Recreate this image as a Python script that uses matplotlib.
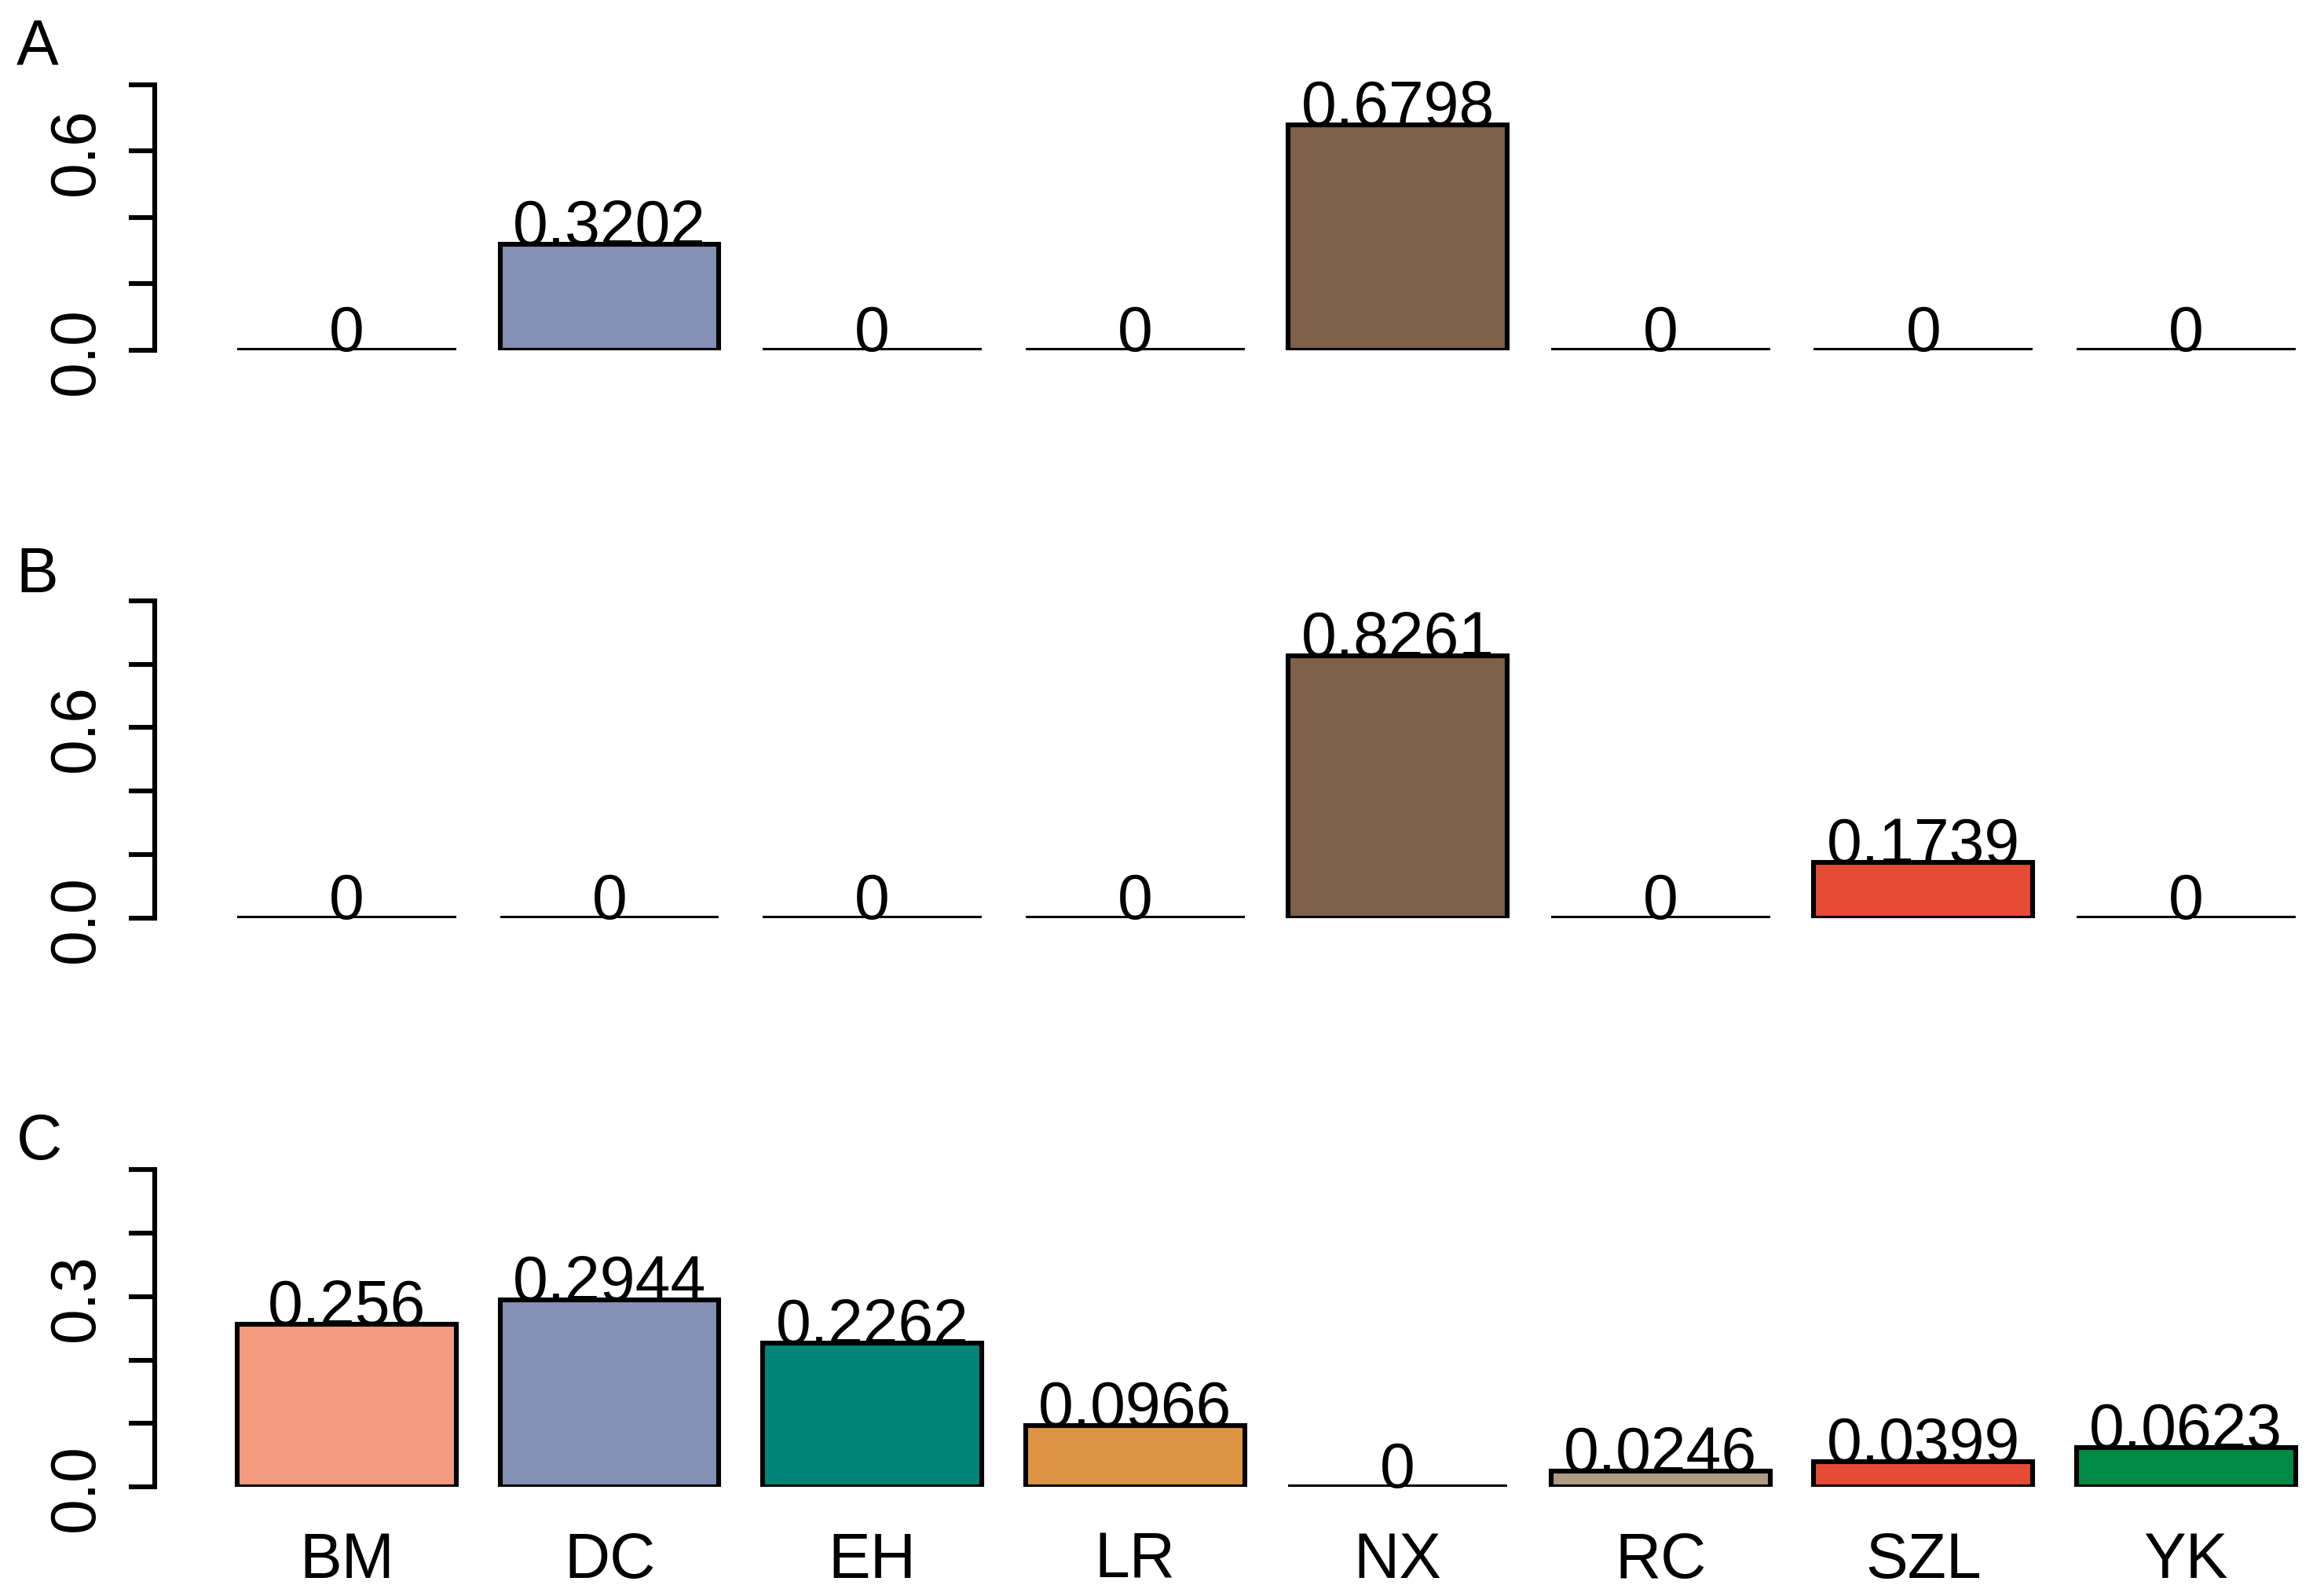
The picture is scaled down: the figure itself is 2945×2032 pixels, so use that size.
import numpy as np
from matplotlib import pyplot as plt

plt.rcParams['font.family'] = ['Liberation Sans', 'DejaVu Sans']

groups = ['BM', 'DC', 'EH', 'LR', 'NX', 'RC', 'SZL', 'YK']
colors = ['#F39B7F', '#8491B4', '#00857A', '#DE9543',
          '#7E6148', '#B09C85', '#E64B35', '#008B45']

# 三组比例
a_vals = [0, 0.3202, 0, 0, 0.6798, 0, 0, 0]
b_vals = [0, 0, 0, 0, 0.8261, 0, 0.1739, 0]
c_vals = [0.256, 0.2944, 0.2262, 0.0966, 0, 0.0246, 0.0399, 0.0623]

a_ticks = [0, 0.2, 0.4, 0.6, 0.8]
b_ticks = [0, 0.2, 0.4, 0.6, 0.8, 1.0]
c_ticks = [0, 0.1, 0.2, 0.3, 0.4, 0.5]
a_labels = ['0.0', '', '', '0.6', '']
b_labels = ['0.0', '', '', '0.6', '', '']
c_labels = ['0.0', '', '', '0.3', '', '']

fs = 29
lw = 2.2

fig = plt.figure(figsize=(14.725, 10.165), dpi=200)

# 柱子位置，仿 R barplot (width=1, space=0.2)
x = 0.7 + 1.2 * np.arange(len(groups))

panels = [
    ('A', a_vals, a_ticks, a_labels, [0.067, 0.7802, 0.933, 0.1662], 0.989),
    ('B', b_vals, b_ticks, b_labels, [0.067, 0.4247, 0.933, 0.1986], 0.658),
    ('C', c_vals, c_ticks, c_labels, [0.067, 0.0683, 0.933, 0.1986], 0.303),
]

for i, (letter, vals, ticks, labels, rect, ly) in enumerate(panels):
    ax = fig.add_axes(rect)
    ax.bar(x, vals, width=1.0, color=colors, edgecolor='black', linewidth=lw)
    for xi, v in zip(x, vals):
        ax.text(xi, v, f'{v:g}', ha='center', va='baseline', fontsize=fs,
                clip_on=False)
    ax.set_xlim(-0.176, 9.68)
    ax.set_ylim(0, ticks[-1])
    for s in ['top', 'right', 'bottom']:
        ax.spines[s].set_visible(False)
    ax.spines['left'].set_linewidth(lw)
    ax.spines['left'].set_bounds(0, ticks[-1])
    ax.set_yticks(ticks)
    ax.set_yticklabels(labels, rotation=90, va='center', fontsize=fs)
    ax.tick_params(axis='y', length=12, width=lw, pad=10)
    if i == 2:
        ax.set_xticks(x)
        ax.set_xticklabels(groups, fontsize=fs)
        ax.tick_params(axis='x', length=0, pad=20)
    else:
        ax.set_xticks([])
    fig.text(0.007, ly, letter, fontsize=fs, ha='left', va='top')

plt.savefig('out.png', dpi=200)
